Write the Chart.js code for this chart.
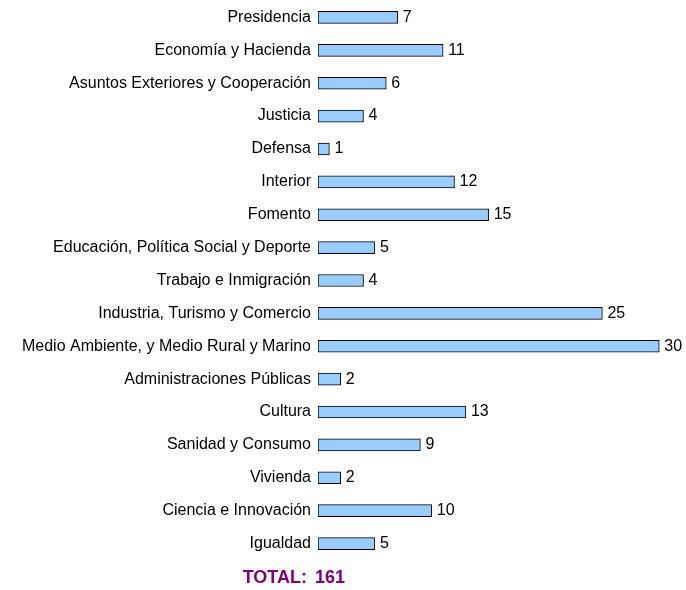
<!DOCTYPE html>
<html>
<head>
<meta charset="utf-8">
<script src="https://cdn.jsdelivr.net/npm/chart.js@4/dist/chart.umd.min.js"></script>
<style>
  html, body { margin: 0; padding: 0; background: #fff; }
  #wrap { width: 686px; height: 590px; }
</style>
</head>
<body>
<div id="wrap"><canvas id="ministryChart" width="686" height="590"></canvas></div>
<script>
const ministries = [
    "Presidencia",
    "Economía y Hacienda",
    "Asuntos Exteriores y Cooperación",
    "Justicia",
    "Defensa",
    "Interior",
    "Fomento",
    "Educación, Política Social y Deporte",
    "Trabajo e Inmigración",
    "Industria, Turismo y Comercio",
    "Medio Ambiente, y Medio Rural y Marino",
    "Administraciones Públicas",
    "Cultura",
    "Sanidad y Consumo",
    "Vivienda",
    "Ciencia e Innovación",
    "Igualdad"
];
const counts = [7, 11, 6, 4, 1, 12, 15, 5, 4, 25, 30, 2, 13, 9, 2, 10, 5];
const totalLabel = "TOTAL:";
const totalValue = 161;

const labelFont = { family: "'Liberation Sans', Arial, sans-serif", size: 16 };

// etiquetas de valor a la derecha de cada barra + fila del total
const valueLabels = {
    id: 'valueLabels',
    afterDatasetsDraw(chart) {
        const ctx = chart.ctx;
        const meta = chart.getDatasetMeta(0);
        ctx.save();
        ctx.font = `${labelFont.size}px ${labelFont.family}`;
        ctx.fillStyle = '#000';
        ctx.textBaseline = 'middle';
        ctx.textAlign = 'left';
        meta.data.forEach((bar, i) => {
            ctx.fillText(counts[i], bar.x + 5, bar.y);
        });

        // total
        const x0 = chart.scales.x.getPixelForValue(0);
        const yTot = chart.chartArea.bottom + 18;
        ctx.font = `bold 18px ${labelFont.family}`;
        ctx.fillStyle = '#800080';
        ctx.textAlign = 'right';
        ctx.fillText(totalLabel, x0 - 11, yTot);
        ctx.textAlign = 'left';
        ctx.fillText(totalValue, x0 - 3, yTot);
        ctx.restore();
    }
};

const ctx = document.getElementById('ministryChart').getContext('2d');
const ministryChart = new Chart(ctx, {
    type: 'bar',
    data: {
        labels: ministries,
        datasets: [{
            data: counts,
            backgroundColor: '#99CCFF',
            borderColor: '#000',
            borderWidth: 1,
            borderSkipped: false,
            barThickness: 12
        }]
    },
    options: {
        indexAxis: 'y',
        responsive: false,
        animation: false,
        layout: { padding: { top: 1, right: 4, bottom: 30, left: 0 } },
        plugins: {
            legend: { display: false },
            tooltip: { enabled: false }
        },
        scales: {
            x: {
                display: false,
                min: 0,
                max: 32
            },
            y: {
                grid: { display: false, drawTicks: false },
                border: { display: false },
                ticks: {
                    color: '#000',
                    font: labelFont,
                    padding: 7,
                    autoSkip: false
                },
                afterFit(scale) {
                    scale.width = 318;
                    scale.paddingTop = 0;
                    scale.paddingBottom = 0;
                }
            }
        }
    },
    plugins: [valueLabels]
});
</script>
</body>
</html>
